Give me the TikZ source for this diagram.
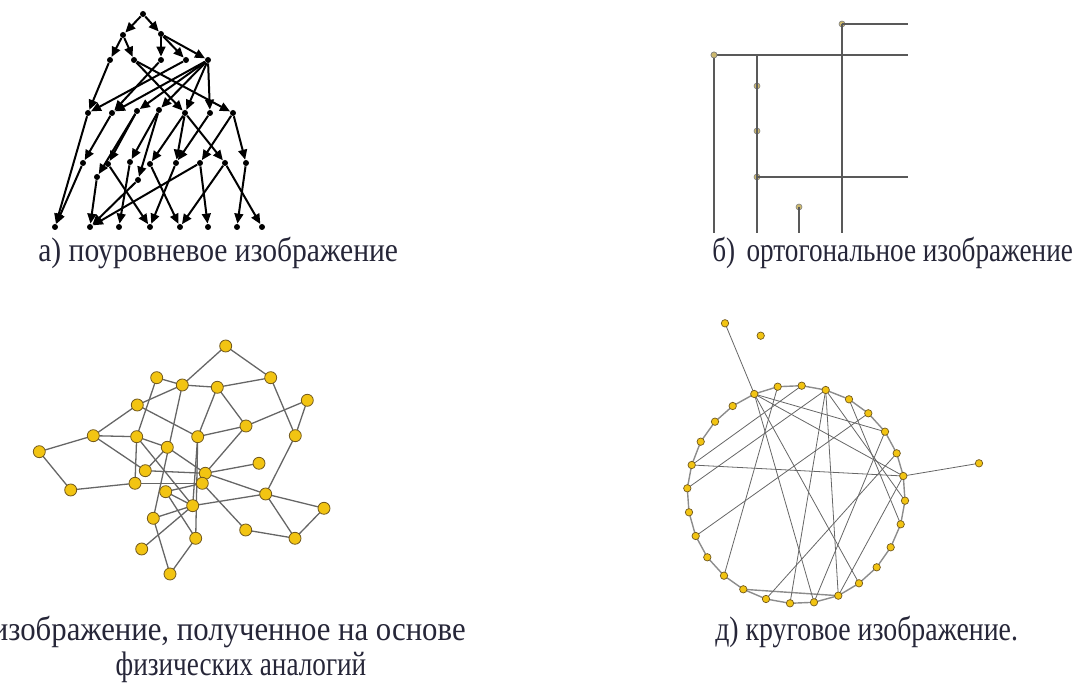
\documentclass[tikz,border=0pt]{standalone}
\usepackage{fontspec}
\setmainfont{Liberation Serif}
\usetikzlibrary{arrows.meta}

\definecolor{captxt}{RGB}{38,38,56}
\definecolor{dotfill}{RGB}{242,196,18}
\definecolor{dotline}{RGB}{115,90,30}
\definecolor{orthdot}{RGB}{205,185,110}

\tikzset{
	lvl/.style={circle,fill=black,inner sep=0pt,minimum size=3pt},
	lvledge/.style={line width=1pt,-{Triangle[length=5pt,width=4.4pt]}},
	ortho/.style={circle,draw=gray,fill=orthdot,inner sep=0pt,minimum size=3pt,line width=0.3pt},
	orthline/.style={line width=1.1pt,draw=black!65},
	spring/.style={circle,draw=dotline,fill=dotfill,inner sep=0pt,minimum size=6pt,line width=0.4pt},
	springedge/.style={line width=0.65pt,draw=black!60},
	ring/.style={circle,draw=dotline,fill=dotfill,inner sep=0pt,minimum size=3.7pt,line width=0.35pt},
	ringedge/.style={line width=0.7pt,draw=black!45},
	chord/.style={line width=0.4pt,draw=black!60},
	caption/.style={font=\fontsize{17}{20}\selectfont,text=captxt,inner sep=0pt,xscale=0.87}
}

\begin{document}
\begin{tikzpicture}[x=0.5pt,y=-0.5pt]
	\useasboundingbox (0,0) rectangle (1078,688);
	
	%LEVELED GRAPH
	\foreach \n/\x/\y in {T/143/14, L1a/123/35, L1b/161/34,
		L2a/110/60, L2b/134/60, L2c/161/60, L2d/186/60, L2e/208/60,
		L3a/88/113, L3b/112/113, L3c/137/111, L3d/159/110, L3e/185/113, L3f/210/113, L3g/233/113,
		L4a/83/163, L4b/97/177, L4c/108/164, L4d/130/162, L4e/138/180, L4f/150/164,
		L4g/176/163, L4h/200/163, L4i/225/163, L4j/246/163,
		B1/55/227, B2/90/227, B3/119/227, B4/150/227, B5/180/227, B6/208/227, B7/237/227, B8/262/227}
		\node[lvl] (\n) at (\x,\y) {};
	\foreach \a/\b in {T/L1a, T/L1b, L1a/L2a, L1a/L2b, L1b/L2c, L1b/L2d, L1b/L2e,
		L2a/L3a, L2b/L3e, L2b/L3g, L2c/L3b, L2d/L3a,
		L2e/L3b, L2e/L3c, L2e/L3d, L2e/L3e, L2e/L3f,
		L3a/B1, L3b/L4a, L3c/L4b, L3c/L4c, L3d/L4d, L3d/L4e, L3e/L4f, L3e/L4g, L3e/L4i,
		L3f/L4g, L3g/L4h, L3g/L4j,
		L4a/B1, L4b/B2, L4c/B4, L4d/B3, L4e/B2, L4f/B5, L4g/B4, L4h/B2, L4h/B6,
		L4i/B5, L4i/B8, L4j/B7}
		\draw[lvledge] (\a) -- (\b);
	
	%ORTHOGONAL GRAPH
	\coordinate (rA) at (908,24);
	\coordinate (rB) at (908,55);
	\coordinate (rC) at (908,177);
	\coordinate (dA) at (714,233);
	\coordinate (dB) at (757,233);
	\coordinate (dC) at (842,233);
	\coordinate (dD) at (799,233);
	\coordinate (jB) at (757,55);
	\node[ortho] (p1) at (714,55) {};
	\node[ortho] (p2) at (842,24) {};
	\node[ortho] (p3) at (757,86) {};
	\node[ortho] (p4) at (757,131) {};
	\node[ortho] (p5) at (757,177) {};
	\node[ortho] (p6) at (799,207) {};
	\draw[orthline] (p2.center) -- (rA);
	\draw[orthline] (p1.center) -- (rB);
	\draw[orthline] (p1.center) -- (dA);
	\draw[orthline] (jB) -- (dB);
	\draw[orthline] (p2.center) -- (dC);
	\draw[orthline] (p5.center) -- (rC);
	\draw[orthline] (p6.center) -- (dD);
	\foreach \n in {p1,...,p6}
		\node[ortho] at (\n) {};
	
	%FORCE-DIRECTED GRAPH
	\foreach \n/\x/\y in {1/225.7/346, 2/270.7/377.7, 3/156.7/377.7, 4/182.3/385, 5/217.3/387.3,
		6/307.3/400.3, 7/137.3/405, 8/246/426, 9/93.3/435.7, 10/136.7/436.7,
		11/197.7/436.7, 12/295.3/435.7, 13/167.3/447.3, 14/39.3/451.7, 15/259/463.3,
		16/145.3/470.7, 17/205.3/473.3, 18/202.3/483.3, 19/135/483.3, 20/70.7/490,
		21/165.7/491.7, 22/265.7/494, 23/192.7/505.7, 24/324/508.3, 25/153.3/518.3,
		26/245.7/530, 27/195.7/538.3, 28/295/538.3, 29/141.7/549, 30/170/574}
		\coordinate (f\n) at (\x,\y);
	\foreach \a/\b in {1/4, 1/2, 3/4, 4/5, 5/2, 2/12, 6/12, 6/8, 5/8, 5/11, 8/11, 8/17,
		7/4, 7/9, 7/11, 3/10, 4/25, 9/10, 9/14, 14/20, 20/19, 10/19, 10/13, 10/23,
		9/16, 16/13, 13/17, 16/17, 19/18, 11/23, 11/27, 17/15, 17/22, 18/26, 18/21,
		23/22, 23/25, 12/22, 22/24, 22/28, 24/28, 26/28, 21/23, 25/30, 27/30, 29/23, 21/27}
		\draw[springedge] (f\a) -- (f\b);
	\foreach \n in {1,...,30}
		\node[spring] at (f\n) {};
	
	%CIRCULAR GRAPH
	\foreach \n/\x/\y in {o1/725/323.3, o2/760.7/335.7, o3/979/463.3,
		c1/754.3/394, c2/777.7/386.7, c3/801.7/385.7, c4/825.7/390, c5/849/399.3,
		c6/868.3/413.3, c7/885/431.7, c8/896.7/453.3, c9/903.3/476, c10/905/500.7,
		c11/900.7/524.3, c12/890.7/547.3, c13/876.7/567.3, c14/859/583.3, c15/838.3/595.7,
		c16/814/602.3, c17/790/603.3, c18/766/599, c19/743.3/589.3, c20/724/575.7,
		c21/707.3/557.3, c22/695.7/536, c23/689/512.3, c24/687.3/488.3, c25/691.7/465,
		c26/700.7/441.7, c27/715/421.7, c28/732.7/406}
		\coordinate (\n) at (\x,\y);
	\foreach \i [remember=\i as \j (initially 28)] in {1,...,28}
		\draw[ringedge] (c\j) -- (c\i);
	\draw[ringedge] (c19) -- (c15);
	\foreach \a/\b in {o1/c1, c9/o3, c25/c9, c1/c7, c1/c9, c1/c14, c1/c16, c2/c20,
		c25/c3, c24/c4, c4/c17, c4/c15, c4/c10, c5/c11, c22/c6, c7/c16, c8/c18, c9/c15}
		\draw[chord] (\a) -- (\b);
	\foreach \n in {o1,o2,o3}
		\node[ring] at (\n) {};
	\foreach \n in {1,...,28}
		\node[ring] at (c\n) {};
	
	%CAPTIONS
	\node[caption,anchor=base west] (capA) at (38,262) {а) поуровневое изображение};
	\node[caption,anchor=base west,xscale=0.92] (capB) at (712,262) {б)\, ортогональное изображение};
	\node[caption,anchor=base east,xscale=1.04] (capC) at (466,641) {изображение, полученное на основе};
	\node[caption,anchor=base,xscale=0.92] (capCc) at (241,676) {физических аналогий};
	\node[caption,anchor=base west,xscale=0.94] (capD) at (715,641) {д) круговое изображение.};
\end{tikzpicture}
\end{document}
